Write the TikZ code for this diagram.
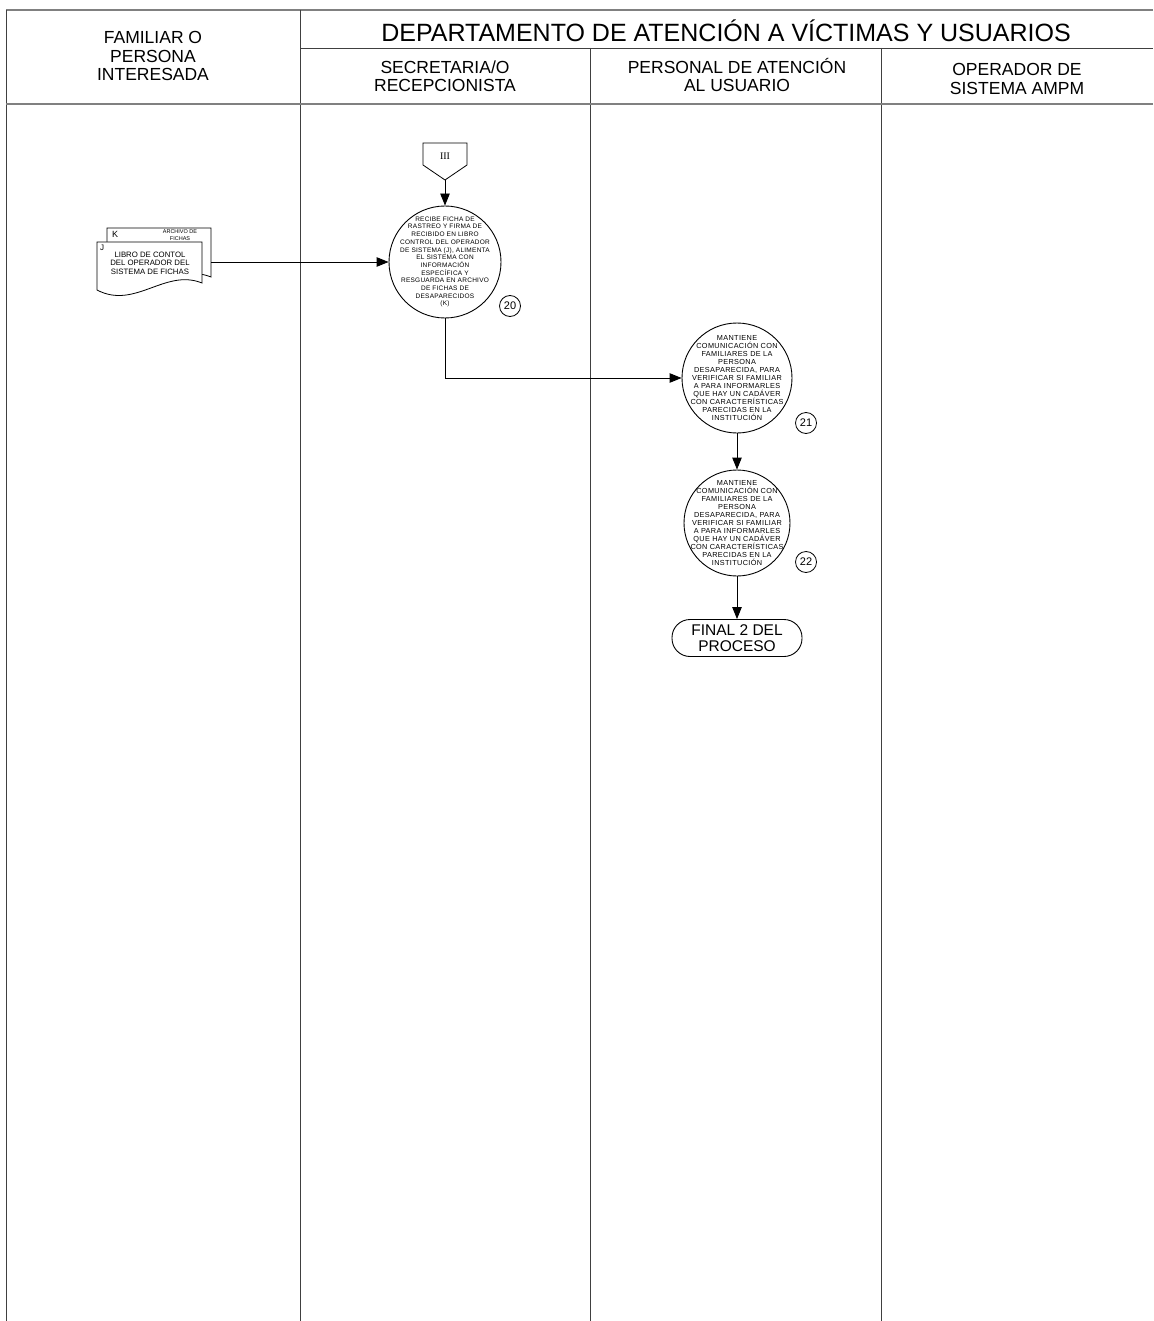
\documentclass[tikz,border=0pt]{standalone}
\usepackage{fontspec}
\setmainfont{Liberation Sans}
\newfontfamily\romanfam{Liberation Serif}
\usepackage{xcolor}
\colorlet{colLane}{black!75}
\colorlet{colTopLine}{black!50}
\usepackage{tikz}
\usetikzlibrary{arrows.meta, positioning, calc, shapes.geometric}

\tikzset{
  lane/.style={draw=colLane, line width=0.9pt},
  lanehead/.style={align=center, inner sep=0pt, font=\fontsize{17.5}{18.5}\selectfont},
  procc/.style={circle, draw, line width=0.9pt, minimum size=#1, inner sep=-30pt, align=center},
  proctxt/.style={font=\fontsize{7.3}{8}\selectfont\addfontfeature{LetterSpace=5}},
  stepnum/.style={circle, draw, line width=0.8pt, minimum size=21pt, inner sep=0pt, font=\fontsize{11}{11}\selectfont},
  flow/.style={-{Triangle[length=12pt,width=9.5pt]}, line width=0.9pt},
  docsheet/.style={draw, fill=white, line width=0.8pt},
}

\begin{document}
\begin{tikzpicture}[x=1pt, y=-1pt]
  \useasboundingbox (0,0) rectangle (1153,1321);

  % lanes and header
  \draw[colTopLine, line width=2pt] (6,10) -- (1153,10);
  \draw[lane] (6,10) -- (6,1321);
  \draw[lane] (300,10) -- (300,1321);
  \draw[lane] (590,48) -- (590,1321);
  \draw[lane] (881,48) -- (881,1321);
  \draw[lane] (300,48) -- (1153,48);
  \draw[colTopLine, line width=1.6pt] (6,104) -- (1153,104);

  \node[lanehead] (hFam) at (153,56) {FAMILIAR O\\PERSONA\\INTERESADA};
  \node[lanehead, font=\fontsize{25}{25}\selectfont] (hDep) at (726,31) {DEPARTAMENTO DE ATENCIÓN A VÍCTIMAS Y USUARIOS};
  \node[lanehead] (hSec) at (445,76) {SECRETARIA/O\\RECEPCIONISTA};
  \node[lanehead] (hPer) at (737,75) {PERSONAL DE ATENCIÓN\\AL USUARIO};
  \node[lanehead] (hOpe) at (1017,79) {OPERADOR DE\\SISTEMA AMPM};

  % off-page connector
  \draw[line width=0.8pt] (423,143) -- (467,143) -- (467,165) -- (445,180) -- (423,165) -- cycle;
  \node[font=\romanfam\fontsize{10}{10}\selectfont] (offIII) at (445,156) {III};
  \coordinate (offIIItip) at (445,180);

  % documents J and K
  \draw[docsheet] (107,228) -- (211,228) -- (211,277)
    .. controls (174,262) and (144,304) .. (107,284) -- cycle;
  \draw[docsheet] (97,242) -- (202,242) -- (202,283)
    .. controls (165,268) and (135,310) .. (97,290) -- cycle;
  \node[font=\fontsize{9}{9}\selectfont] (docK) at (115,234) {K};
  \node[align=center, inner sep=0pt, font=\fontsize{5.5}{6.5}\selectfont] (docKtxt) at (180,235) {ARCHIVO DE\\FICHAS};
  \node[font=\fontsize{8}{8}\selectfont] (docJ) at (102,248) {J};
  \node[align=center, inner sep=0pt, font=\fontsize{7.8}{8.6}\selectfont] (docJtxt) at (150,263) {LIBRO DE CONTOL\\DEL OPERADOR DEL\\SISTEMA DE FICHAS};
  \coordinate (docOut) at (211,262);

  % process steps
  \node[procc=112pt, font=\fontsize{6.5}{7.7}\selectfont\addfontfeature{LetterSpace=4}] (act20) at (445,262)
    {RECIBE FICHA DE\\RASTREO Y FIRMA DE\\RECIBIDO EN LIBRO\\CONTROL DEL OPERADOR\\DE SISTEMA (J), ALIMENTA\\EL SISTEMA CON\\INFORMACIÓN\\ESPECÍFICA Y\\RESGUARDA EN ARCHIVO\\DE FICHAS DE\\DESAPARECIDOS\\(K)};
  \node[stepnum] (num20) at (510,306) {20};

  \node[procc=110pt, proctxt] (act21) at (737,378)
    {MANTIENE\\COMUNICACIÓN CON\\FAMILIARES DE LA\\PERSONA\\DESAPARECIDA, PARA\\VERIFICAR SI FAMILIAR\\A PARA INFORMARLES\\QUE HAY UN CADÁVER\\CON CARACTERÍSTICAS\\PARECIDAS EN LA\\INSTITUCIÓN};
  \node[stepnum] (num21) at (806,423) {21};

  \node[procc=106pt, proctxt] (act22) at (737,523)
    {MANTIENE\\COMUNICACIÓN CON\\FAMILIARES DE LA\\PERSONA\\DESAPARECIDA, PARA\\VERIFICAR SI FAMILIAR\\A PARA INFORMARLES\\QUE HAY UN CADÁVER\\CON CARACTERÍSTICAS\\PARECIDAS EN LA\\INSTITUCIÓN};
  \node[stepnum] (num22) at (806,562) {22};

  \node[draw, line width=0.9pt, rounded corners=18pt, minimum width=130pt, minimum height=37pt,
        inner sep=0pt, align=center, font=\fontsize{15.5}{16.5}\selectfont] (fin2) at (737,638) {FINAL 2 DEL\\PROCESO};

  % connectors
  \draw[flow] (offIIItip) -- (act20);
  \draw[flow] (docOut) -- (act20.west);
  \draw[flow] (act20.south) |- (act21.west);
  \draw[flow] (act21) -- (act22);
  \draw[flow] (act22) -- (fin2);
\end{tikzpicture}
\end{document}
